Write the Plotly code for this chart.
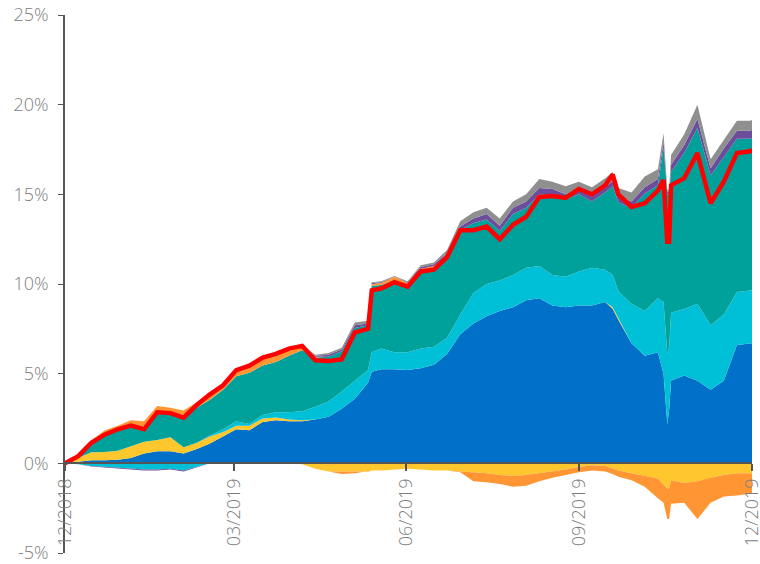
import plotly.graph_objects as go
import pandas as pd

# Dates: weekly observations plus a few extra readings around sharp moves
weekly = list(pd.date_range("2018-12-31", periods=53, freq="7D").strftime("%Y-%m-%d"))
extra_dates = ["2019-06-12", "2019-10-18", "2019-11-14", "2019-11-16", "2019-11-17", "2019-12-31"]

# ---- series values in % (weekly, then extras in the order of extra_dates) ----
blue = [0, 0.1, 0.17, 0.17, 0.2, 0.3, 0.55, 0.68, 0.68, 0.55, 0.8, 1.1, 1.5, 1.9,
        1.85, 2.3, 2.4, 2.35, 2.35, 2.45, 2.6, 3.05, 3.6, 4.5, 5.25, 5.25, 5.2,
        5.3, 5.5, 6.1, 7.2, 7.8, 8.2, 8.5, 8.7, 9.1, 9.2, 8.8, 8.7, 8.8, 8.8, 9.0,
        8.0, 6.7, 6.0, 6.2, 4.6, 4.9, 4.6, 4.1, 4.6, 6.6, 6.7]
blue_x = [5.1, 8.6, 5.0, 2.2, 3.0, 6.7]

yellow_pos = [0, 0.2, 0.45, 0.46, 0.5, 0.65, 0.65, 0.62, 0.77, 0.35, 0.35, 0.4, 0.25, 0.2,
              0.25, 0.2, 0.15, 0.1, 0.05, 0, 0, 0, 0, 0, 0, 0, 0,
              0, 0, 0, 0, 0, 0, 0, 0, 0, 0, 0, 0, 0, 0, 0,
              0.1, 0, 0, 0, 0, 0, 0, 0, 0, 0, 0]
yellow_pos_x = [0, 0.1, 0, 0, 0, 0]

cyan_pos = [0, 0, 0, 0, 0, 0, 0, 0, 0, 0, 0, 0.05, 0.15, 0.25,
            0.1, 0.2, 0.3, 0.4, 0.5, 0.7, 0.85, 0.95, 1.0, 0.7, 1.15, 0.95, 1.0,
            1.1, 1.0, 0.9, 1.1, 1.7, 1.8, 1.7, 1.8, 1.8, 1.8, 1.7, 1.7, 1.9, 2.1, 1.8,
            1.5, 2.2, 2.5, 3.0, 3.8, 3.7, 4.3, 3.6, 3.7, 2.95, 2.95]
cyan_pos_x = [1.1, 1.8, 4.0, 3.9, 3.5, 2.95]

teal = [0, 0.1, 0.5, 1.0, 1.1, 1.1, 0.85, 1.6, 1.35, 1.8, 1.95, 2.0, 2.2, 2.5,
        2.85, 2.75, 2.8, 3.15, 3.4, 2.75, 2.5, 2.25, 2.95, 2.5, 3.55, 4.0, 3.7,
        4.25, 4.35, 4.5, 4.7, 3.9, 3.6, 2.75, 3.4, 3.35, 4.0, 4.5, 4.3, 4.3, 3.7, 4.3,
        4.95, 5.35, 6.55, 6.3, 7.85, 8.7, 9.8, 8.35, 8.8, 8.55, 8.45]
teal_x = [3.7, 4.95, 8.6, 8.9, 8.5, 8.5]

orange_pos = [0, 0.05, 0.15, 0.2, 0.3, 0.35, 0.3, 0.3, 0.3, 0.25, 0.3, 0.3, 0.3, 0.35,
              0.4, 0.45, 0.45, 0.4, 0.3, 0.05, 0, 0, 0, 0, 0.1, 0.2, 0.15,
              0.2, 0.15, 0.05, 0, 0, 0, 0, 0, 0, 0, 0, 0, 0, 0, 0,
              0, 0, 0, 0, 0, 0, 0, 0, 0, 0, 0]
orange_pos_x = [0.1, 0, 0, 0, 0, 0]

purple_pos = [0, 0, 0, 0, 0, 0, 0, 0, 0, 0, 0, 0, 0, 0,
              0, 0, 0, 0, 0, 0.05, 0.1, 0.1, 0.15, 0.1, 0.05, 0, 0.05,
              0.1, 0.1, 0.15, 0.2, 0.25, 0.3, 0.3, 0.35, 0.35, 0.35, 0.3, 0.3, 0.3, 0.3, 0.3,
              0.35, 0.35, 0.35, 0.35, 0.4, 0.45, 0.5, 0.4, 0.45, 0.45, 0.45]
purple_pos_x = [0.05, 0.3, 0.3, 0.15, 0.15, 0.45]

gray = [0, 0, 0, 0, 0, 0, 0, 0, 0, 0, 0, 0, 0, 0,
        0, 0, 0, 0, 0, 0.05, 0.1, 0.1, 0.15, 0.15, 0.05, 0.05, 0.05,
        0.1, 0.1, 0.2, 0.3, 0.35, 0.35, 0.4, 0.35, 0.4, 0.5, 0.4, 0.45, 0.4, 0.5, 0.5,
        0.45, 0.5, 0.6, 0.55, 0.55, 0.6, 0.8, 0.5, 0.5, 0.55, 0.55]
gray_x = [0.05, 0.5, 0.5, 0.1, 0.1, 0.55]

yellow_neg = [0, 0, 0, 0, 0, 0, 0, 0, 0, 0, 0, 0, 0, 0,
              0, 0, 0, 0, -0.05, -0.3, -0.45, -0.45, -0.45, -0.45, -0.4, -0.35, -0.3,
              -0.35, -0.4, -0.4, -0.45, -0.5, -0.55, -0.65, -0.7, -0.65, -0.55, -0.45, -0.35, -0.2, -0.1, -0.15,
              -0.4, -0.55, -0.7, -0.85, -0.95, -1.1, -1.0, -0.8, -0.65, -0.55, -0.55]
yellow_neg_x = [-0.4, -0.3, -1.2, -1.4, -1.4, -0.55]

orange_neg = [0, 0, 0, 0, 0, 0, 0, 0, 0, 0, 0, 0, 0, 0,
              0, 0, 0, 0, 0, 0, 0, -0.15, -0.1, 0, 0, 0, 0,
              0, 0, 0, -0.05, -0.5, -0.5, -0.5, -0.6, -0.6, -0.45, -0.35, -0.3, -0.3, -0.3, -0.3,
              -0.35, -0.4, -0.6, -1.1, -1.3, -1.1, -2.1, -1.4, -1.2, -1.25, -1.15]
orange_neg_x = [0, -0.3, -1.0, -1.7, -1.7, -1.15]

cyan_neg = [0, -0.05, -0.15, -0.2, -0.25, -0.3, -0.35, -0.35, -0.3, -0.4, -0.2, 0, 0, 0,
            0, 0, 0, 0, 0, 0, 0, 0, 0, 0, 0, 0, 0,
            0, 0, 0, 0, 0, 0, 0, 0, 0, 0, 0, 0, 0, 0, 0,
            0, 0, 0, 0, 0, 0, 0, 0, 0, 0, 0]
cyan_neg_x = [0, 0, 0, 0, 0, 0]

purple_neg = [0, 0, -0.03, -0.03, -0.05, -0.05, -0.05, -0.05, -0.05, -0.05, -0.03, 0, 0, 0,
              0, 0, 0, 0, 0, 0, 0, 0, 0, 0, 0, 0, 0,
              0, 0, 0, 0, 0, 0, 0, 0, 0, 0, 0, 0, 0, 0, 0,
              0, 0, 0, 0, 0, 0, 0, 0, 0, 0, 0]
purple_neg_x = [0, 0, 0, 0, 0, 0]

total = [0, 0.4, 1.15, 1.6, 1.9, 2.1, 1.9, 2.85, 2.8, 2.55, 3.25, 3.85, 4.35, 5.2,
         5.45, 5.9, 6.1, 6.4, 6.55, 5.75, 5.7, 5.8, 7.3, 7.5, 9.75, 10.1, 9.85,
         10.7, 10.8, 11.5, 13.0, 13.0, 13.2, 12.5, 13.3, 13.75, 14.85, 14.9, 14.8, 15.3, 15.0, 15.5,
         15.0, 14.3, 14.5, 15.2, 15.5, 15.9, 17.3, 14.5, 15.7, 17.3, 17.4]
total_x = [9.65, 16.1, 15.8, 12.35, 12.35, 17.5]

tick_vals = ["2018-12-31", "2019-03-31", "2019-06-30", "2019-09-30", "2019-12-31"]
tick_text = ["12/2018", "03/2019", "06/2019", "09/2019", "12/2019"]
y_ticks = [-5, 0, 5, 10, 15, 20, 25]
y_tick_text = ["-5%", "0%", "5%", "10%", "15%", "20%", "25%"]

# ---- assemble a sorted frame ----
dates = weekly + extra_dates
cols = {
    "blue": blue + blue_x, "yellow_pos": yellow_pos + yellow_pos_x,
    "cyan_pos": cyan_pos + cyan_pos_x, "teal": teal + teal_x,
    "orange_pos": orange_pos + orange_pos_x, "purple_pos": purple_pos + purple_pos_x,
    "gray": gray + gray_x, "yellow_neg": yellow_neg + yellow_neg_x,
    "orange_neg": orange_neg + orange_neg_x, "cyan_neg": cyan_neg + cyan_neg_x,
    "purple_neg": purple_neg + purple_neg_x, "total": total + total_x,
}
df = pd.DataFrame(cols, index=pd.to_datetime(dates)).sort_index()

C_BLUE = "#0070C9"
C_YEL = "#FFC72E"
C_CYAN = "#00C0D8"
C_TEAL = "#00A19A"
C_ORG = "#FF9633"
C_PUR = "#6C4D9C"
C_GRAY = "#8F8F8F"

fig = go.Figure()

def add_area(col, color, group):
    fig.add_trace(go.Scatter(
        x=df.index, y=df[col], mode="lines", stackgroup=group,
        line=dict(width=0), fillcolor=color,
        hoverinfo="skip", showlegend=False))

for col, colr in [("blue", C_BLUE), ("yellow_pos", C_YEL), ("cyan_pos", C_CYAN),
                  ("teal", C_TEAL), ("orange_pos", C_ORG), ("purple_pos", C_PUR),
                  ("gray", C_GRAY)]:
    add_area(col, colr, "pos")
for col, colr in [("yellow_neg", C_YEL), ("cyan_neg", C_CYAN),
                  ("orange_neg", C_ORG), ("purple_neg", C_PUR)]:
    add_area(col, colr, "neg")

fig.add_trace(go.Scatter(x=df.index, y=df["total"], mode="lines",
                         line=dict(color="#FF0000", width=4.5),
                         hoverinfo="skip", showlegend=False))

font_axis = dict(family="Open Sans, Lato, sans-serif", size=18, color="#7d7d7d", weight=300)

fig.update_layout(
    width=760, height=564,
    margin=dict(l=65, r=8, t=15, b=11),
    paper_bgcolor="white", plot_bgcolor="white",
    showlegend=False, hovermode=False,
    xaxis=dict(
        type="date", range=["2018-12-31", "2019-12-31"],
        tickvals=tick_vals, ticktext=tick_text, tickangle=-90,
        tickfont=font_axis, anchor="free", position=5 / 30,
        showline=True, linecolor="#555555", linewidth=2,
        ticks="outside", ticklen=7, tickcolor="#555555", tickwidth=1.5,
        showgrid=False, zeroline=False, automargin=False, layer="above traces",
        ticklabeloverflow="allow",
    ),
    yaxis=dict(
        range=[-5, 25], tickmode="array", tickvals=y_ticks, ticktext=y_tick_text,
        tickfont=font_axis, showline=True, linecolor="#555555", linewidth=1.5,
        ticks="outside", ticklen=5, tickcolor="#555555",
        showgrid=False, zeroline=False, automargin=False, ticklabelstandoff=6,
        ticklabeloverflow="allow",
    ),
)

# remove the default 8px page margin so the figure fills the window exactly
fig.write_html("out.html", config={"displayModeBar": False},
               post_script="document.body.style.margin='0px';")
